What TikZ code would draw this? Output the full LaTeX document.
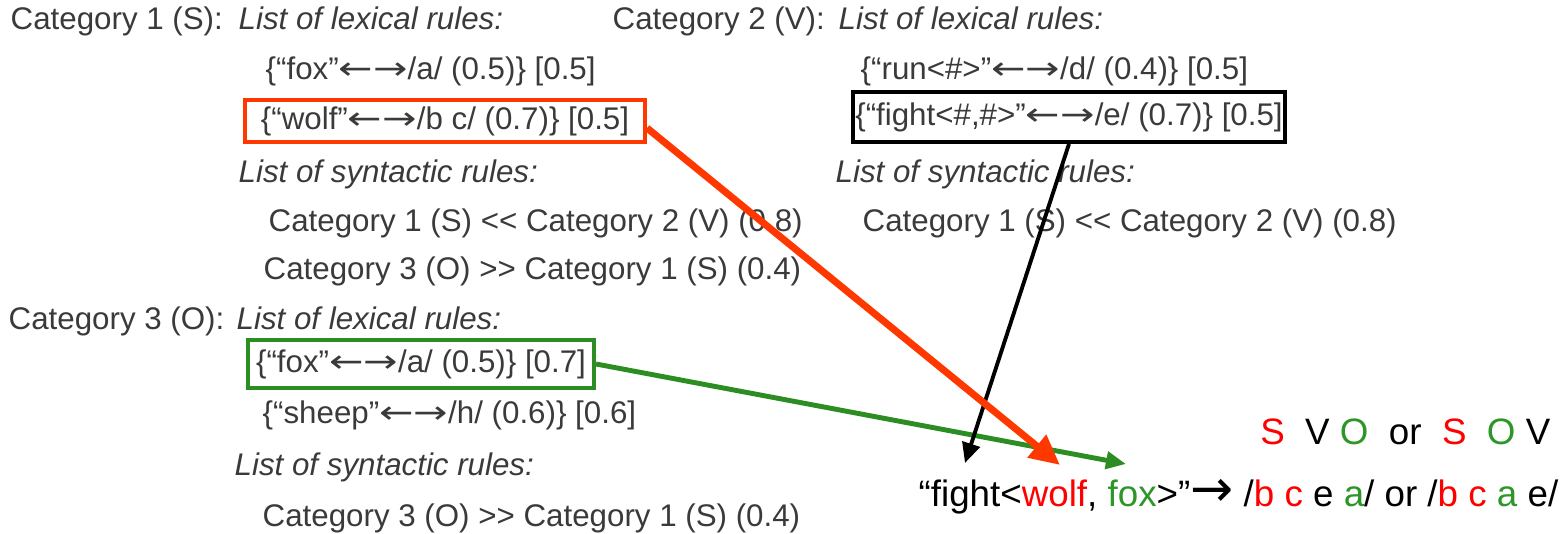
\documentclass[tikz,border=0pt]{standalone}
\usepackage{graphicx}
\usepackage{fontspec}
\setmainfont{Liberation Sans}[Ligatures=TeXOff]
\newfontfamily\arrowfont{DejaVu Sans}
\usetikzlibrary{arrows.meta}

\definecolor{rulegray}{RGB}{58,58,58}
\definecolor{boxred}{RGB}{255,56,0}
\definecolor{boxgreen}{RGB}{44,142,34}
\definecolor{wordred}{RGB}{255,0,0}
\definecolor{wordgreen}{RGB}{46,150,40}

% the two-headed arrow of a lexical rule, and the arrow of the result
\newcommand{\twoway}{{\arrowfont\fontsize{9}{10}\selectfont\scalebox{1.3}[1]{←→}}}
\newcommand{\yields}{{\arrowfont\scalebox{1.4}{→}}}

\tikzset{
    rule/.style={anchor=base west, inner sep=0pt, text=rulegray, font=\fontsize{8.9}{11}\selectfont},
    head/.style={rule, font=\fontsize{8.9}{11}\selectfont\itshape},
    rulebox/.style={rule, anchor=center, draw, line width=1.1pt},
    outcome/.style={inner sep=0pt, font=\fontsize{10.45}{13}\selectfont},
}

\begin{document}
\begin{tikzpicture}[x=0.01cm, y=-0.01cm]
    \useasboundingbox (0,0) rectangle (1565,534);

    % category 1
    \node[rule] (cat1) at (10,30) {Category 1 (S):};
    \node[head] (lex1) at (238,30) {List of lexical rules:};
    \node[rule] (fox1) at (265,80) {\{“fox”\twoway/a/ (0.5)\} [0.5]};
    \node[rulebox, draw=boxred, minimum width=4cm, minimum height=0.42cm] (wolf) at (445,121) {\{“wolf”\twoway/b c/ (0.7)\} [0.5]};
    \node[head] (syn1) at (238,183) {List of syntactic rules:};
    \node[rule] (ord1a) at (268,232) {Category 1 (S) << Category 2 (V) (0.8)};
    \node[rule] (ord1b) at (263,280) {Category 3 (O) >> Category 1 (S) (0.4)};

    % category 2
    \node[rule] (cat2) at (612,30) {Category 2 (V):};
    \node[head] (lex2) at (838,30) {List of lexical rules:};
    \node[rule] (run) at (860,80) {\{“run<\#>”\twoway/d/ (0.4)\} [0.5]};
    \node[rulebox, draw=black, minimum width=4.32cm, minimum height=0.5cm] (fight) at (1069,117) {\{“fight<\#,\#>”\twoway/e/ (0.7)\} [0.5]};
    \node[head] (syn2) at (835,183) {List of syntactic rules:};
    \node[rule] (ord2) at (862,232) {Category 1 (S) << Category 2 (V) (0.8)};

    % category 3
    \node[rule] (cat3) at (8,330) {Category 3 (O):};
    \node[head] (lex3) at (236,330) {List of lexical rules:};
    \node[rulebox, draw=boxgreen, minimum width=3.46cm, minimum height=0.48cm] (fox3) at (421,364) {\{“fox”\twoway/a/ (0.5)\} [0.7]};
    \node[rule] (sheep) at (262,424) {\{“sheep”\twoway/h/ (0.6)\} [0.6]};
    \node[head] (syn3) at (234,476) {List of syntactic rules:};
    \node[rule] (ord3) at (262,527) {Category 3 (O) >> Category 1 (S) (0.4)};

    % the sentence that comes out
    \node[outcome, anchor=base east] (order) at (1551,445)
        {\textcolor{wordred}{S}\ \ V \textcolor{wordgreen}{O}\ \ or\ \ \textcolor{wordred}{S}\ \ \textcolor{wordgreen}{O} V};
    \node[outcome, anchor=base west] (result) at (918,507)
        {“fight<\textcolor{wordred}{wolf}, \textcolor{wordgreen}{fox}>”\yields{} /\textcolor{wordred}{b} \textcolor{wordred}{c} e \textcolor{wordgreen}{a}/ or /\textcolor{wordred}{b} \textcolor{wordred}{c} \textcolor{wordgreen}{a} e/};

    \coordinate (redtip) at (1060,465);
    \coordinate (blacktip) at (965,463);
    \coordinate (greentip) at (1126,464);

    \draw[boxgreen, line width=1.4pt, -{Triangle[length=0.2cm,width=0.17cm]}] (fox3.east) -- (greentip);
    \draw[black, line width=1.1pt, -{Triangle[length=0.2cm,width=0.18cm]}] (fight.south) -- (blacktip);
    \draw[boxred, line width=2pt, -{Triangle[length=0.3cm,width=0.28cm]}] (wolf.-2) -- (redtip);

\end{tikzpicture}
\end{document}
